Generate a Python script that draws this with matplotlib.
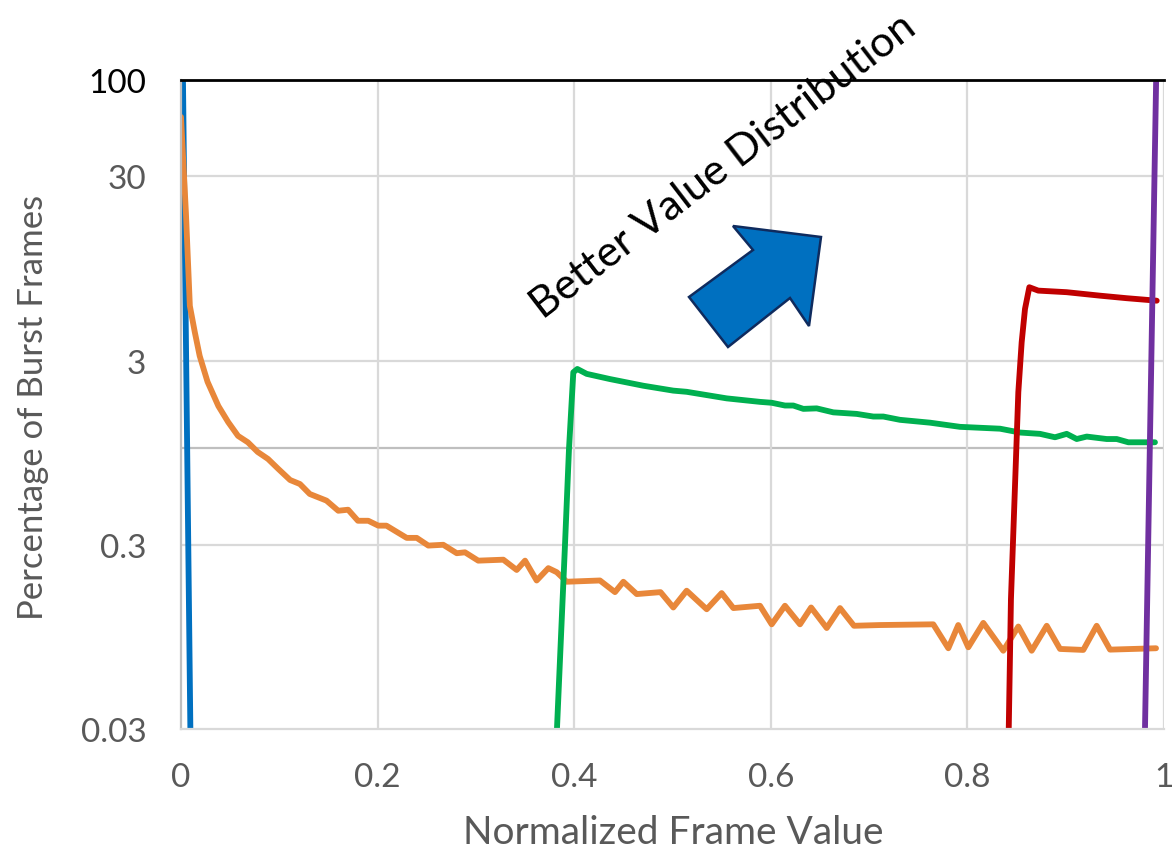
import matplotlib.pyplot as plt
from matplotlib.patches import Polygon
from matplotlib.ticker import NullLocator

plt.rcParams['font.family'] = ['Lato', 'DejaVu Sans']

# burst-frame share per normalized frame value, one series per scheme
blue_x = [0.002, 0.0097]
blue_y = [100, 0.0249]

orange_x = [0.0, 0.005, 0.009, 0.014, 0.019, 0.027, 0.038, 0.048, 0.058, 0.068,
            0.078, 0.0885, 0.099, 0.111, 0.121, 0.131, 0.148, 0.160, 0.170, 0.180,
            0.1905, 0.2007, 0.209, 0.2296, 0.2398, 0.2516, 0.2668, 0.2805, 0.2889, 0.3024,
            0.3279, 0.3415, 0.350, 0.3618, 0.3737, 0.3822, 0.3924, 0.4262, 0.4415, 0.450,
            0.4636, 0.4878, 0.5008, 0.5144, 0.5348, 0.550, 0.5619, 0.589, 0.6009, 0.6144,
            0.6297, 0.641, 0.6569, 0.6704, 0.6846, 0.711, 0.7653, 0.7806, 0.7907, 0.8009,
            0.8162, 0.8365, 0.8518, 0.8654, 0.8807, 0.8942, 0.9179, 0.9315, 0.9451, 0.9919]
orange_y = [63.0, 19.0, 5.94, 4.29, 3.18, 2.30, 1.70, 1.39, 1.17, 1.08,
            0.957, 0.877, 0.774, 0.674, 0.641, 0.566, 0.521, 0.459, 0.465, 0.405,
            0.405, 0.381, 0.381, 0.327, 0.327, 0.297, 0.300, 0.270, 0.273, 0.246,
            0.249, 0.219, 0.246, 0.192, 0.224, 0.213, 0.189, 0.192, 0.166, 0.189,
            0.162, 0.166, 0.137, 0.169, 0.134, 0.164, 0.136, 0.140, 0.111, 0.140,
            0.111, 0.137, 0.106, 0.136, 0.109, 0.110, 0.111, 0.0823, 0.110, 0.0833,
            0.113, 0.0798, 0.108, 0.0798, 0.109, 0.0816, 0.0806, 0.109, 0.0809, 0.0823]

green_x = [0.3818, 0.3906, 0.3947, 0.3991, 0.4032, 0.4127, 0.4364, 0.4703, 0.5008, 0.5144,
           0.5551, 0.589, 0.6009, 0.6144, 0.6229, 0.6331, 0.6467, 0.6636, 0.6874, 0.7043,
           0.7145, 0.7314, 0.762, 0.7925, 0.8332, 0.8535, 0.8739, 0.8891, 0.901, 0.9112,
           0.9214, 0.9417, 0.9519, 0.9637, 0.9908]
green_y = [0.0249, 0.297, 0.993, 2.59, 2.70, 2.54, 2.38, 2.19, 2.06, 2.03,
           1.87, 1.79, 1.77, 1.71, 1.71, 1.64, 1.65, 1.57, 1.54, 1.49,
           1.49, 1.43, 1.38, 1.31, 1.28, 1.22, 1.20, 1.15, 1.20, 1.125,
           1.16, 1.125, 1.125, 1.08, 1.08]

red_x = [0.8418, 0.8443, 0.8494, 0.8518, 0.8552, 0.8586, 0.863, 0.8721, 0.901, 0.9349, 0.962, 0.9926]
red_y = [0.0249, 0.152, 0.877, 2.02, 3.77, 5.72, 7.50, 7.19, 7.05, 6.75, 6.54, 6.34]

purple_x = [0.9804, 0.992]
purple_y = [0.0249, 100]

x_ticks = [0, 0.2, 0.4, 0.6, 0.8, 1]
x_tick_labels = ['0', '0.2', '0.4', '0.6', '0.8', '1']
y_ticks = [0.03, 0.3, 3, 30, 100]
y_tick_labels = ['0.03', '0.3', '3', '30', '100']
light_grid = [0.3, 3, 30]
dark_grid = [1]

W, H = 1173, 854
fig = plt.figure(figsize=(W / 100, H / 100), dpi=100)
ax = fig.add_axes([181 / W, 1 - 730 / H, 983 / W, 649 / H])

ax.set_yscale('log')
ax.set_xlim(0, 1)
ax.set_ylim(0.03, 100)

for lv in light_grid:
    ax.axhline(lv, color='#d9d9d9', lw=1.6, zorder=0)
for lv in dark_grid:
    ax.axhline(lv, color='#bfbfbf', lw=1.6, zorder=0)
for xv in x_ticks[1:]:
    ax.axvline(xv, color='#d9d9d9', lw=1.6, zorder=0)

lw = 4.2
ax.plot(blue_x, blue_y, color='#0070C0', lw=lw, solid_capstyle='round')
ax.plot(orange_x, orange_y, color='#E8873A', lw=lw, solid_joinstyle='round', solid_capstyle='round')
ax.plot(green_x, green_y, color='#00B050', lw=lw, solid_joinstyle='round', solid_capstyle='round')
ax.plot(red_x, red_y, color='#C00000', lw=lw, solid_joinstyle='round', solid_capstyle='round')
ax.plot(purple_x, purple_y, color='#7030A0', lw=lw, solid_capstyle='round')

ax.set_xticks(x_ticks)
ax.set_xticklabels(x_tick_labels)
ax.set_yticks(y_ticks)
ax.set_yticklabels(y_tick_labels)
ax.yaxis.set_minor_locator(NullLocator())
ax.tick_params(axis='both', length=0, labelsize=24, labelcolor='#595959')
ax.tick_params(axis='y', pad=25)
ax.tick_params(axis='x', pad=24)
ax.get_yticklabels()[-1].set_color('black')

ax.spines['right'].set_visible(False)
ax.spines['top'].set_color('black')
ax.spines['top'].set_linewidth(2)
ax.spines['left'].set_color('#bfbfbf')
ax.spines['left'].set_linewidth(1.6)
ax.spines['bottom'].set_color('#d9d9d9')
ax.spines['bottom'].set_linewidth(1.6)

fig.text(673 / W, 1 - 833 / H, 'Normalized Frame Value', fontsize=28,
         color='#595959', ha='center', va='center')
fig.text(33 / W, 1 - 407 / H, 'Percentage of Burst Frames', fontsize=25,
         color='#595959', ha='center', va='center', rotation=90)
fig.text(723 / W, 1 - 166 / H, 'Better Value Distribution', fontsize=31,
         color='black', ha='center', va='center', rotation=37.5)

# block arrow pointing up and to the right
arrow_px = [(733, 227), (821, 238), (809, 327), (790, 299),
            (728, 348), (689, 298), (753, 251)]
arrow = Polygon([(px / W, 1 - py / H) for px, py in arrow_px], closed=True,
                transform=fig.transFigure, facecolor='#0070C0',
                edgecolor='#0F2B5E', lw=1.8, zorder=5)
fig.patches.append(arrow)

fig.savefig('out.png', dpi=100)
